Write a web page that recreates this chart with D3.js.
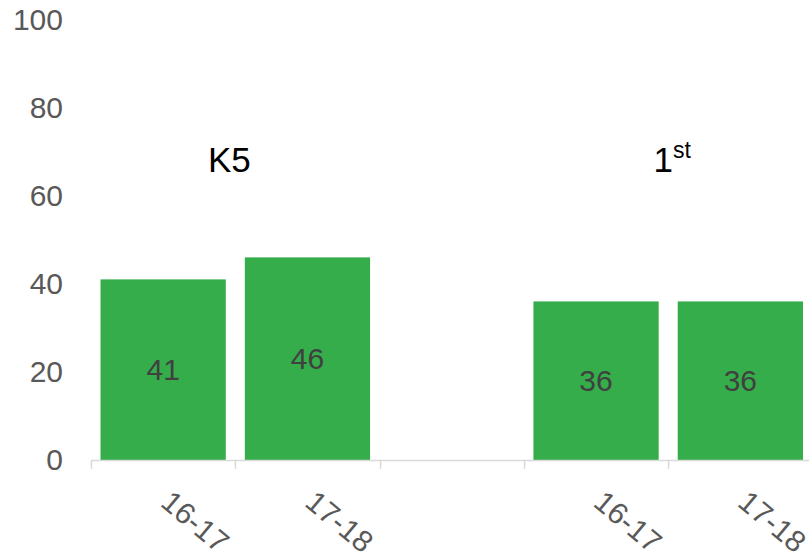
<!DOCTYPE html>
<html>
<head>
<meta charset="utf-8">
<script src="https://cdn.jsdelivr.net/npm/d3@7"></script>
<style>
  body { margin: 0; background: #fff; }
  svg { display: block; font-family: "Liberation Sans", Arial, sans-serif; }
</style>
</head>
<body>
<div id="chart"></div>
<script>
// data
var groups = ["K5", "1st"];
var years = ["16-17", "17-18"];
var k5Values = [41, 46];
var firstValues = [36, 36];
var yTicks = [0, 20, 40, 60, 80, 100];

// Width and height
var w = 809;
var h = 553;

// build the slots: group 1, an empty gap, group 2
var slots = [];
years.forEach(function(yr, i) {
    slots.push({ key: "K5|" + yr, group: "K5", year: yr, value: k5Values[i] });
});
slots.push({ key: "gap", group: null, year: "", value: null });
years.forEach(function(yr, i) {
    slots.push({ key: "1st|" + yr, group: "1st", year: yr, value: firstValues[i] });
});

var x = d3.scaleBand()
    .domain(slots.map(function(d) { return d.key; }))
    .range([91, 812.5])
    .padding(0);

var y = d3.scaleLinear()
    .domain([0, 100])
    .range([460, 19.5]);

var svg = d3.select("#chart")
    .append("svg")
    .attr("width", w)
    .attr("height", h);

// y axis labels only
var yAxis = svg.append("g")
    .attr("transform", "translate(91,0)")
    .call(d3.axisLeft(y).tickValues(yTicks).tickSize(0).tickPadding(28));
yAxis.select(".domain").remove();
yAxis.selectAll("text")
    .attr("fill", "#595959")
    .style("font-size", "30px")
    .style("font-family", "'Liberation Sans', Arial, sans-serif");

// bars
var barW = x.bandwidth() * 0.868;
var bars = slots.filter(function(d) { return d.value !== null; });

svg.selectAll("rect.bar")
    .data(bars)
    .enter()
    .append("rect")
    .attr("class", "bar")
    .attr("x", function(d) { return x(d.key) + (x.bandwidth() - barW) / 2; })
    .attr("y", function(d) { return y(d.value); })
    .attr("width", barW)
    .attr("height", function(d) { return y(0) - y(d.value); })
    .attr("fill", "#35ad4a");

// value labels in the middle of each bar
svg.selectAll("text.val")
    .data(bars)
    .enter()
    .append("text")
    .attr("class", "val")
    .attr("x", function(d) { return x(d.key) + x.bandwidth() / 2; })
    .attr("y", function(d) { return (y(d.value) + y(0)) / 2; })
    .attr("dy", "0.35em")
    .attr("text-anchor", "middle")
    .attr("fill", "#404040")
    .style("font-size", "30px")
    .text(function(d) { return d.value; });

// x axis line and boundary ticks
var x0 = x.range()[0], x1 = x.range()[1];
svg.append("line")
    .attr("x1", x0).attr("x2", x1)
    .attr("y1", y(0) + 0.5).attr("y2", y(0) + 0.5)
    .attr("stroke", "#d9d9d9")
    .attr("stroke-width", 1.5);

var bounds = slots.map(function(d) { return x(d.key); }).concat([x1]);
svg.selectAll("line.tick")
    .data(bounds)
    .enter()
    .append("line")
    .attr("class", "tick")
    .attr("x1", function(d) { return Math.round(d) + 0.5; })
    .attr("x2", function(d) { return Math.round(d) + 0.5; })
    .attr("y1", y(0))
    .attr("y2", y(0) + 9)
    .attr("stroke", "#d9d9d9")
    .attr("stroke-width", 1.5);

// rotated year labels (cut at the bottom edge, as in the original)
svg.selectAll("text.year")
    .data(slots.filter(function(d) { return d.year !== ""; }))
    .enter()
    .append("text")
    .attr("class", "year")
    .attr("transform", function(d) {
        return "translate(" + (x(d.key) + x.bandwidth() / 2 - 4) + ",505) rotate(40)";
    })
    .attr("fill", "#595959")
    .style("font-size", "30px")
    .text(function(d) { return d.year; });

// group labels above each pair of bars
groups.forEach(function(g) {
    var first = x(g + "|" + years[0]);
    var last = x(g + "|" + years[years.length - 1]) + x.bandwidth();
    var cx = (first + last) / 2;
    var t = svg.append("text")
        .attr("x", cx)
        .attr("y", 172)
        .attr("text-anchor", "middle")
        .attr("fill", "#000")
        .style("font-size", "35px");
    var m = g.match(/^(\d+)(st|nd|rd|th)$/);
    if (m) {
        t.attr("dx", 4);
        t.append("tspan").text(m[1]);
        t.append("tspan")
            .attr("dy", -14)
            .style("font-size", "23px")
            .text(m[2]);
    } else {
        t.attr("dx", -6).text(g);
    }
});
</script>
</body>
</html>
